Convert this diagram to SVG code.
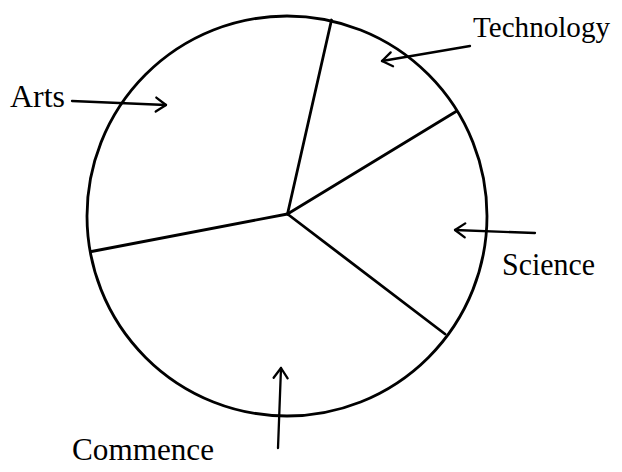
<svg xmlns="http://www.w3.org/2000/svg" width="622" height="472" viewBox="0 0 622 472">
<style>
.pie{fill:none;stroke:#000;stroke-width:2.8;stroke-linecap:round}
.arr{fill:none;stroke:#000;stroke-width:2.3;stroke-linecap:round}
.lbl{font-family:"Liberation Serif","Times New Roman",serif;font-size:32px;fill:#000}
</style>
<defs>
<marker id="ah" markerUnits="userSpaceOnUse" markerWidth="16" markerHeight="18" refX="12" refY="8" orient="auto" viewBox="0 0 16 16">
<path d="M2,1 L12,8 L2,15" fill="none" stroke="#000" stroke-width="2.3" stroke-linecap="round" stroke-linejoin="round"/>
</marker>
</defs>
<rect width="622" height="472" fill="#fff"/>
<g id="pie">
<circle class="pie" cx="287" cy="216" r="200"/>
<line class="pie" x1="287.5" y1="214" x2="331.5" y2="20"/>
<line class="pie" x1="287.5" y1="214" x2="456" y2="111.5"/>
<line class="pie" x1="287.5" y1="214" x2="445" y2="334"/>
<line class="pie" x1="287.5" y1="214" x2="91.5" y2="251.5"/>
</g>
<g id="arts"><text class="lbl" x="10" y="107" textLength="55" lengthAdjust="spacingAndGlyphs">Arts</text></g>
<g id="technology"><text class="lbl" x="473" y="37" style="font-size:29px" textLength="137" lengthAdjust="spacingAndGlyphs">Technology</text></g>
<g id="science"><text class="lbl" x="502" y="275" textLength="93" lengthAdjust="spacingAndGlyphs">Science</text></g>
<g id="commence"><text class="lbl" x="72" y="460" textLength="142" lengthAdjust="spacingAndGlyphs">Commence</text></g>
<g id="connectors">
<line class="arr" x1="72" y1="101" x2="166" y2="105" marker-end="url(#ah)"/>
<line class="arr" x1="470" y1="46" x2="382" y2="61" marker-end="url(#ah)"/>
<line class="arr" x1="535" y1="233" x2="455" y2="230" marker-end="url(#ah)"/>
<line class="arr" x1="278" y1="448" x2="281" y2="368" marker-end="url(#ah)"/>
</g>
</svg>
